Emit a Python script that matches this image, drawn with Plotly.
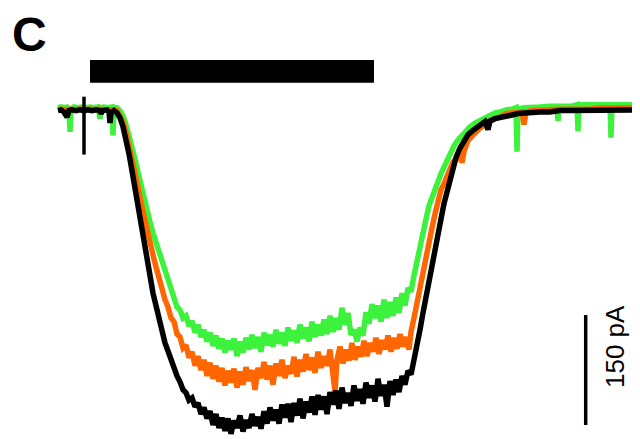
import plotly.graph_objects as go

# ---- data: (time s, current pA) ----
black_trace = [
    (0.00, -1), (0.03, 0), (0.06, -3), (0.09, -10), (0.11, -1), (0.14, 0), (0.18, -1), (0.22, 0),
    (0.26, -1), (0.30, 0), (0.34, -1), (0.38, 0), (0.42, -1), (0.43, -5), (0.45, -1), (0.49, 0),
    (0.51, -3), (0.52, -18), (0.53, -4), (0.56, -1), (0.59, -4), (0.62, -11), (0.65, -23), (0.68, -40),
    (0.71, -60), (0.74, -83), (0.77, -108), (0.80, -131), (0.83, -155), (0.86, -181), (0.89, -206),
    (0.92, -228), (0.95, -250), (0.98, -267), (1.01, -285), (1.04, -301), (1.07, -318), (1.10, -329),
    (1.13, -342), (1.16, -352), (1.19, -363), (1.22, -371), (1.25, -382), (1.28, -386), (1.31, -396),
    (1.34, -393), (1.37, -405), (1.40, -400), (1.43, -415), (1.46, -406), (1.49, -421), (1.52, -411),
    (1.55, -430), (1.58, -415), (1.61, -434), (1.64, -420), (1.67, -438), (1.70, -421), (1.73, -442),
    (1.76, -424), (1.79, -434), (1.82, -417), (1.85, -439), (1.88, -423), (1.91, -434), (1.94, -415),
    (1.97, -431), (2.00, -419), (2.03, -435), (2.06, -411), (2.09, -428), (2.12, -406), (2.15, -424),
    (2.18, -409), (2.21, -428), (2.24, -402), (2.27, -420), (2.30, -401), (2.33, -426), (2.36, -400),
    (2.39, -417), (2.42, -394), (2.45, -421), (2.48, -398), (2.51, -413), (2.54, -391), (2.57, -416),
    (2.60, -389), (2.63, -409), (2.66, -391), (2.69, -415), (2.72, -385), (2.75, -402), (2.78, -383),
    (2.81, -408), (2.84, -379), (2.87, -400), (2.90, -386), (2.93, -404), (2.96, -376), (2.99, -397),
    (3.02, -381), (3.05, -401), (3.08, -372), (3.11, -393), (3.14, -376), (3.17, -398), (3.20, -367),
    (3.23, -390), (3.26, -375), (3.29, -405), (3.32, -370), (3.35, -389), (3.38, -368), (3.41, -385),
    (3.44, -363), (3.47, -375), (3.50, -356), (3.53, -361), (3.56, -341), (3.59, -323), (3.62, -300),
    (3.65, -277), (3.68, -254), (3.71, -231), (3.74, -209), (3.77, -186), (3.80, -166), (3.83, -149),
    (3.86, -128), (3.89, -112), (3.92, -95), (3.95, -79), (3.98, -65), (4.02, -52), (4.06, -42),
    (4.10, -34), (4.14, -29), (4.18, -25), (4.22, -20), (4.27, -16), (4.30, -27), (4.32, -15),
    (4.37, -12), (4.42, -11), (4.48, -8), (4.54, -7), (4.60, -5), (4.66, -4), (4.72, -4), (4.82, -3),
    (4.92, -3), (5.02, -1), (5.12, -1), (5.22, -1), (5.32, 0), (5.42, -1), (5.52, 0), (5.62, 0),
    (5.72, 0), (5.80, 0),
]

orange_trace = [
    (0.00, 0), (0.04, 1), (0.08, 0), (0.12, 1), (0.17, 0), (0.22, 1), (0.27, 0), (0.32, 1),
    (0.37, 0), (0.42, 1), (0.47, 0), (0.52, 1), (0.56, 0), (0.59, -1), (0.62, -7), (0.65, -16),
    (0.68, -31), (0.71, -48), (0.74, -67), (0.77, -87), (0.80, -106), (0.83, -127), (0.86, -147),
    (0.89, -165), (0.92, -181), (0.95, -198), (0.98, -214), (1.01, -231), (1.04, -246), (1.07, -259),
    (1.10, -269), (1.13, -284), (1.16, -289), (1.19, -306), (1.22, -310), (1.25, -325), (1.28, -321),
    (1.31, -338), (1.34, -330), (1.37, -349), (1.40, -336), (1.43, -355), (1.46, -341), (1.49, -363),
    (1.52, -345), (1.55, -367), (1.58, -349), (1.61, -371), (1.64, -352), (1.67, -376), (1.70, -356),
    (1.73, -372), (1.76, -353), (1.79, -379), (1.82, -357), (1.85, -375), (1.88, -351), (1.91, -370),
    (1.94, -355), (1.97, -382), (2.00, -352), (2.03, -366), (2.06, -344), (2.09, -368), (2.12, -349),
    (2.15, -375), (2.18, -346), (2.21, -363), (2.24, -341), (2.27, -366), (2.30, -349), (2.33, -360),
    (2.36, -337), (2.39, -364), (2.42, -341), (2.45, -357), (2.48, -333), (2.51, -355), (2.54, -338),
    (2.57, -359), (2.60, -330), (2.63, -352), (2.66, -336), (2.69, -349), (2.72, -327), (2.75, -359),
    (2.77, -385), (2.79, -341), (2.82, -323), (2.85, -346), (2.88, -327), (2.91, -342), (2.94, -318),
    (2.97, -341), (3.00, -323), (3.03, -337), (3.06, -315), (3.09, -336), (3.12, -318), (3.15, -330),
    (3.18, -311), (3.21, -333), (3.24, -314), (3.27, -327), (3.30, -308), (3.33, -330), (3.36, -311),
    (3.39, -326), (3.42, -306), (3.45, -323), (3.48, -310), (3.51, -327), (3.53, -303), (3.56, -284),
    (3.59, -262), (3.62, -243), (3.65, -221), (3.68, -202), (3.71, -181), (3.74, -161), (3.77, -142),
    (3.80, -124), (3.83, -109), (3.86, -101), (3.89, -90), (3.92, -80), (3.95, -71), (3.98, -68),
    (4.02, -61), (4.04, -72), (4.06, -57), (4.10, -42), (4.14, -35), (4.18, -30), (4.22, -25),
    (4.27, -19), (4.32, -15), (4.37, -12), (4.42, -10), (4.48, -5), (4.54, -4), (4.60, -3),
    (4.64, -3), (4.66, -20), (4.68, -3), (4.74, -1), (4.82, 0), (4.92, 0), (5.02, 1), (5.12, 1),
    (5.22, 1), (5.32, 1), (5.42, 3), (5.52, 3), (5.62, 3), (5.72, 3), (5.80, 3),
]

green_trace = [
    (0.00, 3), (0.03, 4), (0.06, 3), (0.09, 4), (0.11, 1), (0.12, -30), (0.13, 1), (0.16, 4),
    (0.20, 3), (0.24, 4), (0.28, 3), (0.32, 4), (0.36, 3), (0.40, 4), (0.42, -12), (0.43, 3),
    (0.46, 4), (0.50, 3), (0.54, 4), (0.55, -35), (0.56, 3), (0.59, 3), (0.62, -1), (0.65, -8),
    (0.68, -20), (0.71, -34), (0.74, -50), (0.77, -67), (0.80, -85), (0.83, -104), (0.86, -121),
    (0.89, -139), (0.92, -153), (0.95, -168), (0.98, -181), (1.01, -195), (1.04, -209), (1.07, -221),
    (1.10, -233), (1.13, -247), (1.16, -256), (1.19, -269), (1.22, -273), (1.25, -284), (1.28, -281),
    (1.31, -295), (1.34, -288), (1.37, -304), (1.40, -293), (1.43, -310), (1.46, -300), (1.49, -316),
    (1.52, -304), (1.55, -322), (1.58, -308), (1.61, -326), (1.64, -312), (1.67, -331), (1.70, -315),
    (1.73, -327), (1.76, -312), (1.79, -336), (1.82, -316), (1.85, -331), (1.88, -311), (1.91, -327),
    (1.94, -307), (1.97, -325), (2.00, -310), (2.03, -330), (2.06, -304), (2.09, -321), (2.12, -307),
    (2.15, -323), (2.18, -300), (2.21, -319), (2.24, -304), (2.27, -322), (2.30, -297), (2.33, -315),
    (2.36, -301), (2.39, -318), (2.42, -293), (2.45, -312), (2.48, -297), (2.51, -316), (2.54, -289),
    (2.57, -310), (2.60, -293), (2.63, -308), (2.66, -286), (2.69, -306), (2.72, -281), (2.75, -303),
    (2.78, -284), (2.81, -300), (2.84, -270), (2.87, -293), (2.90, -277), (2.93, -307), (2.96, -300),
    (2.99, -316), (3.02, -297), (3.05, -308), (3.08, -276), (3.11, -292), (3.14, -265), (3.17, -284),
    (3.20, -267), (3.23, -289), (3.26, -259), (3.29, -284), (3.32, -262), (3.35, -281), (3.38, -256),
    (3.41, -277), (3.44, -250), (3.47, -267), (3.50, -243), (3.53, -248), (3.56, -226), (3.59, -205),
    (3.62, -186), (3.65, -168), (3.68, -149), (3.71, -131), (3.74, -119), (3.77, -108), (3.80, -97),
    (3.83, -87), (3.86, -78), (3.89, -68), (3.92, -60), (3.96, -49), (4.00, -41), (4.04, -34),
    (4.08, -29), (4.12, -23), (4.17, -18), (4.22, -14), (4.27, -10), (4.32, -7), (4.37, -4),
    (4.42, -3), (4.48, 0), (4.54, 1), (4.58, 3), (4.59, -57), (4.60, 1), (4.66, 3), (4.72, 4),
    (4.82, 4), (4.92, 5), (4.99, 5), (5.00, -15), (5.01, 5), (5.08, 5), (5.14, 5), (5.19, 7),
    (5.20, -29), (5.21, 7), (5.32, 7), (5.42, 7), (5.52, 7), (5.53, -38), (5.54, 7), (5.62, 7),
    (5.72, 7), (5.80, 7),
]

artifact_t = [0.26, 0.26]
artifact_pA = [18, -61]

stimulus_on_s = 0.32
stimulus_off_s = 3.16
stimulus_level_pA = [37, 68]

scalebar_t = 5.277
scalebar_top_pA = -280
scalebar_pA = 150
scalebar_label = "150 pA"
panel_label = "C"

GREEN = "#3cf23c"
ORANGE = "#ff6600"
BLACK = "#000000"

# the page body adds an 8 px offset; shift the view to compensate
OFF = 8
W, H = 640, 439

fig = go.Figure()
for trace, color in ((green_trace, GREEN), (orange_trace, ORANGE), (black_trace, BLACK)):
    t, i = zip(*trace)
    fig.add_trace(go.Scatter(x=list(t), y=list(i), mode="lines",
                             line=dict(color=color, width=5.5), hoverinfo="skip"))

fig.add_trace(go.Scatter(x=artifact_t, y=artifact_pA, mode="lines",
                         line=dict(color=BLACK, width=3.5), hoverinfo="skip"))

fig.add_trace(go.Scatter(x=[scalebar_t, scalebar_t],
                         y=[scalebar_top_pA, scalebar_top_pA - scalebar_pA],
                         mode="lines", line=dict(color=BLACK, width=3.5), hoverinfo="skip"))

fig.add_shape(type="rect", xref="x", yref="y",
              x0=stimulus_on_s, x1=stimulus_off_s,
              y0=stimulus_level_pA[0], y1=stimulus_level_pA[1],
              fillcolor=BLACK, line=dict(width=0))

fig.add_annotation(text=panel_label, xref="paper", yref="paper",
                   x=(10 - OFF) / W, y=1 - (34 - OFF) / H, xanchor="left", yanchor="middle",
                   showarrow=False,
                   font=dict(family="Liberation Sans, Arial", size=48, color=BLACK, weight="bold"))

fig.add_annotation(text=scalebar_label, xref="paper", yref="paper",
                   x=(615 - OFF) / W, y=1 - (347 - OFF) / H, xanchor="center", yanchor="middle",
                   textangle=-90, showarrow=False,
                   font=dict(family="Liberation Sans, Arial", size=26, color=BLACK))

fig.update_layout(
    width=W, height=H,
    margin=dict(l=0, r=0, t=0, b=0),
    paper_bgcolor="white", plot_bgcolor="white",
    showlegend=False,
    xaxis=dict(range=[-0.50, 5.90], visible=False, fixedrange=True),
    yaxis=dict(range=[-460, 139], visible=False, fixedrange=True),
)

fig.write_html("out.html")
